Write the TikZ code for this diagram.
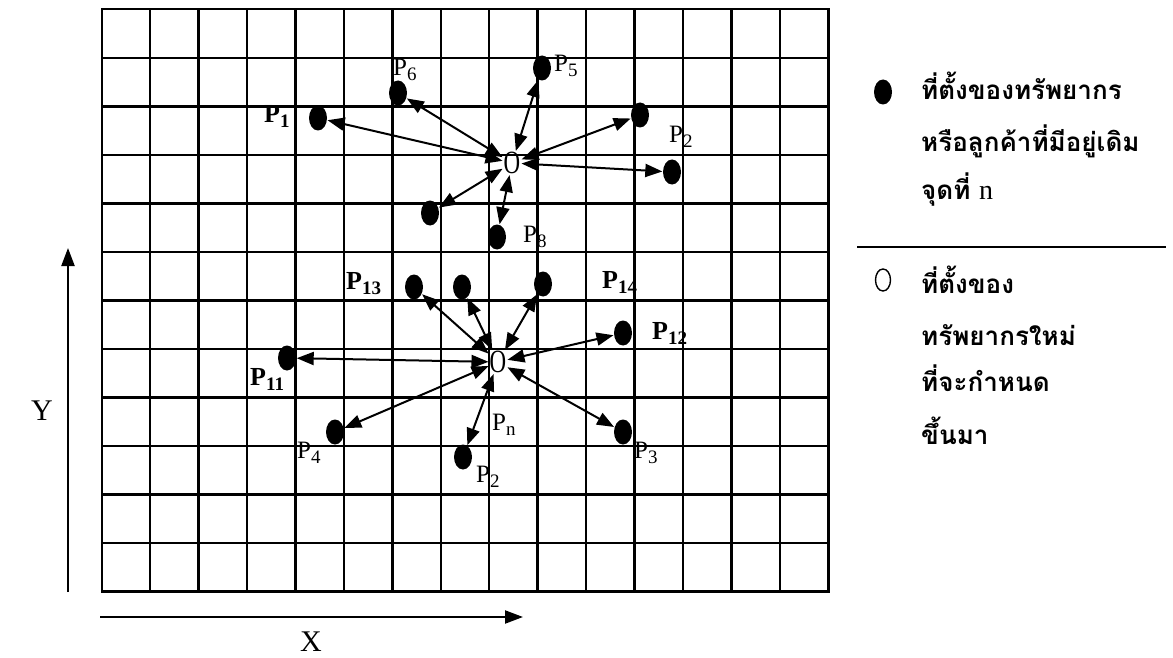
\documentclass[tikz,border=0pt]{standalone}
\usepackage{graphicx}
\usepackage{fontspec}
\setmainfont{Liberation Serif}
\newfontfamily\thaifont[Script=Thai]{Loma}
\usetikzlibrary{arrows.meta,shapes.geometric}
\newcommand{\Psub}[1]{P\lower5pt\hbox{\fontsize{19}{19}\selectfont #1}}
\newcommand{\Oletter}{\scalebox{0.85}[1.2]{O}}
\tikzset{
  gridline/.style={line width=2.4pt, line cap=rect},
  dot/.style={ellipse, fill=black, minimum width=18pt, minimum height=25pt, inner sep=0pt},
  onode/.style={inner sep=0.5pt, font=\fontsize{27}{28}\selectfont},
  link/.style={{Triangle[length=17pt,width=13pt]}-{Triangle[length=17pt,width=13pt]}, line width=2pt, shorten <=0.5pt, shorten >=0.5pt},
  axisline/.style={-{Triangle[length=18pt,width=13pt]}, line width=2.2pt},
  plbl/.style={anchor=west, inner sep=0pt, font=\fontsize{25}{27}\selectfont},
  pbold/.style={plbl, font=\fontsize{26}{28}\selectfont\bfseries},
  axlbl/.style={inner sep=0pt, font=\fontsize{30}{32}\selectfont},
  thai/.style={anchor=base west, inner sep=0pt, font=\thaifont\bfseries\fontsize{26}{28}\selectfont},
  ldot/.style={ellipse, fill=black, minimum width=18pt, minimum height=25pt, inner sep=0pt},
  lcirc/.style={ellipse, draw=black, line width=1.4pt, minimum width=15pt, minimum height=22pt, inner sep=0pt},
  sep/.style={line width=1.6pt}
}
\begin{document}
\begin{tikzpicture}[x=1pt,y=-1pt]
\useasboundingbox (0,0) rectangle (1173,658);
% grid
\foreach \i in {0,...,15} \draw[gridline] ({101.7+\i*48.44},9.3) -- ({101.7+\i*48.44},591.7);
\foreach \j in {0,...,12} \draw[gridline] (101.7,{9.3+\j*48.53}) -- (828.3,{9.3+\j*48.53});
% points
\node[dot] (p1) at (318,118) {};
\node[dot] (p6) at (398,93) {};
\node[dot] (p5) at (542,68) {};
\node[dot] (p2a) at (640,115) {};
\node[dot] (pr) at (672,172) {};
\node[dot] (pl) at (430,213) {};
\node[dot] (p8) at (497,237) {};
\node[dot] (p13) at (414,287) {};
\node[dot] (pm) at (462,287) {};
\node[dot] (p14) at (543,284) {};
\node[dot] (p12) at (623,333) {};
\node[dot] (p11) at (287,358) {};
\node[dot] (p4) at (335,432) {};
\node[dot] (p2b) at (463,457) {};
\node[dot] (p3) at (623,432) {};
\node[onode] (o1) at (512,163) {\Oletter};
\node[onode] (o2) at (498,362) {\Oletter};
% connectors
\foreach \t in {p1,p6,p5,p2a,pr,pl,p8} \draw[link] (o1) -- (\t);
\foreach \t in {p13,pm,p14,p12,p3,p2b,p4,p11} \draw[link] (o2) -- (\t);
% labels
\node[plbl] (l6) at (393,70) {\Psub{6}};
\node[pbold] (l1) at (264,116) {\Psub{1}};
\node[plbl] (l5) at (554,66) {\Psub{5}};
\node[plbl] (l2a) at (669,137) {\Psub{2}};
\node[plbl] (l8) at (523,237) {\Psub{8}};
\node[pbold] (l13) at (346,284) {\Psub{13}};
\node[pbold] (l14) at (602,282) {\Psub{14}};
\node[pbold] (l12) at (652,333) {\Psub{12}};
\node[pbold] (l11) at (250,379) {\Psub{11}};
\node[plbl] (l4) at (297,453) {\Psub{4}};
\node[plbl] (ln) at (492,425) {\Psub{n}};
\node[plbl] (l2b) at (476,477) {\Psub{2}};
\node[plbl] (l3) at (634,453) {\Psub{3}};
% axes
\coordinate (ya) at (68,592);
\coordinate (yb) at (68,248);
\draw[axisline] (ya) -- (yb);
\coordinate (xa) at (100,617);
\coordinate (xb) at (523,617);
\draw[axisline] (xa) -- (xb);
\node[axlbl] (ylab) at (42,411) {Y};
\node[axlbl] (xlab) at (311,642) {X};
% legend
\node[ldot] (ld) at (883,92) {};
\node[thai] (t1) at (921,100) {ที่ตั้งของทรัพยากร};
\node[thai] (t2) at (921,152) {หรือลูกค้าที่มีอยู่เดิม};
\node[thai] (t3) at (921,200) {จุดที่ {\fontspec{Liberation Serif}\mdseries\fontsize{28}{30}\selectfont n}};
\coordinate (s1) at (857,247);
\coordinate (s2) at (1166,247);
\draw[sep] (s1) -- (s2);
\node[lcirc] (lc) at (883,280) {};
\node[thai] (t4) at (921,293) {ที่ตั้งของ};
\node[thai] (t5) at (921,345) {ทรัพยากรใหม่};
\node[thai] (t6) at (921,391) {ที่จะกำหนด};
\node[thai] (t7) at (921,444) {ขึ้นมา};
\end{tikzpicture}
\end{document}
